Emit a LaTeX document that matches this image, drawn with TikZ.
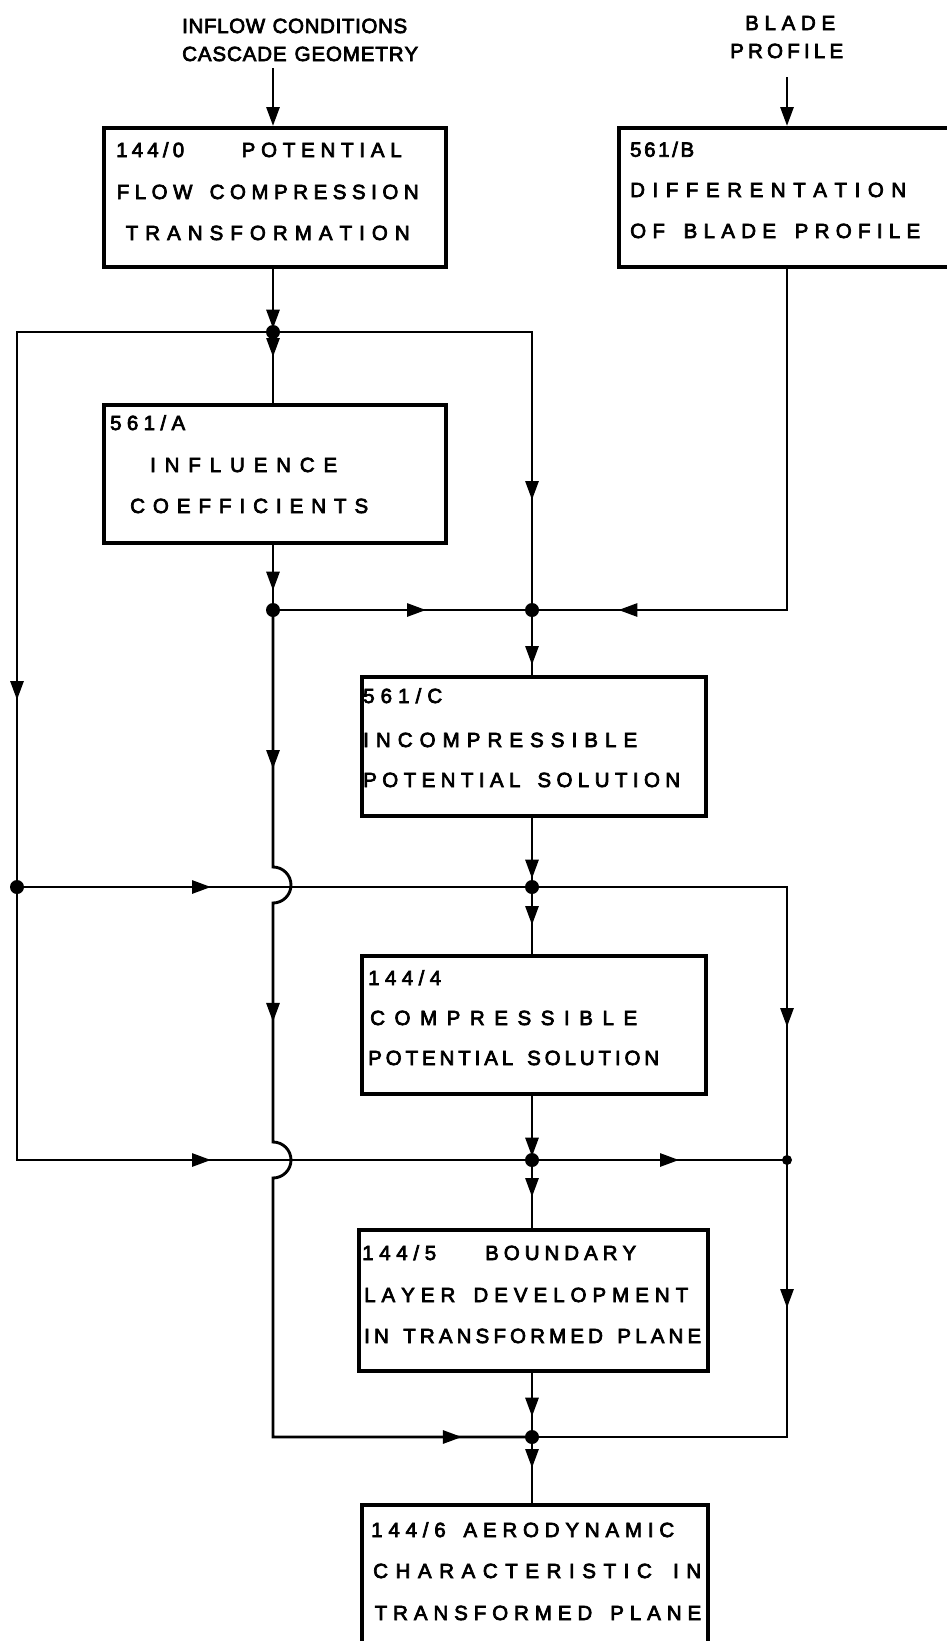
\documentclass[tikz,border=0pt]{standalone}
\usepackage{fontspec}
\newfontfamily\lett{Liberation Sans}[FakeBold=3.5]
\usetikzlibrary{arrows.meta,decorations.markings}

\ExplSyntaxOn
\bool_new:N \l__rs_first_bool
\cs_new_protected:Npn \rs_spread:nn #1 #2
  {
    \hbox_to_wd:nn {#1}
      {
        \bool_set_true:N \l__rs_first_bool
        \str_map_inline:nn {#2}
          {
            \str_if_eq:nnTF {##1} {~}
              { \skip_horizontal:n { 0.3em plus 1fill } }
              {
                \bool_if:NF \l__rs_first_bool
                  { \skip_horizontal:n { 0pt plus 1fill minus 1.5pt } }
                \bool_set_false:N \l__rs_first_bool
                ##1
              }
          }
      }
  }
\NewDocumentCommand \spread { m m } { \rs_spread:nn {#1} {#2} }
\ExplSyntaxOff

\tikzset{
  Tri/.tip={Triangle[length=19pt,width=13pt]},
  box/.style={draw, line width=3.6pt, anchor=north west, inner sep=0pt},
  conn/.style={line width=2.9pt},
  tipat/.style={postaction={decorate, decoration={markings, mark=at position #1 with {\arrow{Tri}}}}},
  lbl/.style={inner sep=0pt, anchor=base west, font=\lett\fontsize{20.5pt}{22pt}\selectfont},
  dot/.style={circle, fill, inner sep=0pt, minimum size=14pt},
  sdot/.style={circle, fill, inner sep=0pt, minimum size=10pt},
}

\begin{document}
\begin{tikzpicture}[x=1pt, y=-1pt]
\useasboundingbox (0,0) rectangle (947,1641);

% boxes
\node[box, minimum width=342pt, minimum height=139pt] (b0) at (102,126) {};
\node[box, minimum width=340pt, minimum height=139pt] (bB) at (617,126) {};
\node[box, minimum width=342pt, minimum height=138pt] (bA) at (102,403) {};
\node[box, minimum width=344pt, minimum height=139pt] (bC) at (360,675) {};
\node[box, minimum width=344pt, minimum height=138pt] (b4) at (360,954) {};
\node[box, minimum width=349pt, minimum height=141pt] (b5) at (357,1228) {};
\node[box, minimum width=346pt, minimum height=160pt] (b6) at (360,1503) {};

% junctions
\node[dot] (j1) at (273,332) {};
\node[dot] (jA) at (273,610) {};
\node[dot] (j2) at (532,610) {};
\node[dot] (j3L) at (17,887) {};
\node[dot] (j3) at (532,887) {};
\node[dot] (j4) at (532,1160) {};
\node[sdot] (j4R) at (787,1160) {};
\node[dot] (j5) at (532,1437) {};
\coordinate (in0) at (273,68);
\coordinate (in1) at (787,77);

% texts
\node[lbl] (tA1) at (182,33) {\spread{225pt}{INFLOW CONDITIONS}};
\node[lbl] (tA2) at (182,61) {\spread{236pt}{CASCADE GEOMETRY}};
\node[lbl] (tB1) at (745,30) {\spread{90pt}{BLADE}};
\node[lbl] (tB2) at (730,58) {\spread{113pt}{PROFILE}};

\node[lbl] (t01) at (116,157) {\spread{68pt}{144/0}};
\node[lbl] (t02) at (241.5,157) {\spread{160pt}{POTENTIAL}};
\node[lbl] (t03) at (116.5,199) {\spread{302pt}{FLOW COMPRESSION}};
\node[lbl] (t04) at (125.5,240) {\spread{284pt}{TRANSFORMATION}};

\node[lbl] (tB3) at (630,156.7) {\spread{64pt}{561/B}};
\node[lbl] (tB4) at (630,197) {\spread{276pt}{DIFFERENTATION}};
\node[lbl] (tB5) at (630,238) {\spread{290pt}{OF BLADE PROFILE}};

\node[lbl] (tA3) at (110,430) {\spread{75pt}{561/A}};
\node[lbl] (tA4) at (150,472) {\spread{187pt}{INFLUENCE}};
\node[lbl] (tA5) at (130,513) {\spread{238pt}{COEFFICIENTS}};

\node[lbl] (tC1) at (363,703) {\spread{79pt}{561/C}};
\node[lbl] (tC2) at (363,747) {\spread{274pt}{INCOMPRESSIBLE}};
\node[lbl] (tC3) at (363,787) {\spread{317pt}{POTENTIAL SOLUTION}};

\node[lbl] (t41) at (368,985) {\spread{73pt}{144/4}};
\node[lbl] (t42) at (370,1025) {\spread{267pt}{COMPRESSIBLE}};
\node[lbl] (t43) at (368,1065) {\spread{291pt}{POTENTIAL SOLUTION}};

\node[lbl] (t51) at (362,1260) {\spread{74pt}{144/5}};
\node[lbl] (t52) at (485,1260) {\spread{151pt}{BOUNDARY}};
\node[lbl] (t53) at (364,1302) {\spread{324pt}{LAYER DEVELOPMENT}};
\node[lbl] (t54) at (364,1343) {\spread{337pt}{IN TRANSFORMED PLANE}};

\node[lbl] (t61) at (371,1537) {\spread{303pt}{144/6 AERODYNAMIC}};
\node[lbl] (t62) at (373,1578) {\spread{328pt}{CHARACTERISTIC IN}};
\node[lbl] (t63) at (374.5,1620) {\spread{326.5pt}{TRANSFORMED PLANE}};

% connectors
\draw[conn,-Tri] (in0) -- (in0 |- b0.north);
\draw[conn,-Tri] (in1) -- (in1 |- bB.north);
\draw[conn, tipat=60pt] (j1.center |- b0.south) -- (j1.center);
\draw[conn, tipat=25pt] (j1.center) -- (j1.center |- bA.north);
\draw[conn, tipat=624pt] (j1.center) -| (j3L.center);
\draw[conn, tipat=427pt] (j1.center) -| (j2.center);
\draw[conn, tipat=46pt] (jA.center |- bA.south) -- (jA.center);
\draw[conn, tipat=153pt] (jA.center) -- (j2.center);
\draw[conn, tipat=510pt] (in1 |- bB.south) |- (j2.center);
\draw[conn, tipat=55pt] (j2.center) -- (j2.center |- bC.north);
\draw[conn, tipat=159pt, tipat=432.5pt, tipat=1057pt] (jA.center) -- (273,867)
  arc[start angle=90, end angle=-90, radius=18pt] -- (273,1142)
  arc[start angle=90, end angle=-90, radius=18pt] -- (273,1437) -- (j5.center);
\draw[conn, tipat=61pt] (j3.center |- bC.south) -- (j3.center);
\draw[conn, tipat=194pt] (j3L.center) -- (j3.center);
\draw[conn, tipat=38pt] (j3.center) -- (j3.center |- b4.north);
\draw[conn, tipat=395pt] (j3.center) -| (j4R.center);
\draw[conn, tipat=148pt] (j4R.center) |- (j5.center);
\draw[conn, tipat=61pt] (j4.center |- b4.south) -- (j4.center);
\draw[conn, tipat=467pt] (j3L.center) |- (j4.center);
\draw[conn, tipat=147pt] (j4.center) -- (j4R.center);
\draw[conn, tipat=37pt] (j4.center) -- (j4.center |- b5.north);
\draw[conn, tipat=44pt] (j5.center |- b5.south) -- (j5.center);
\draw[conn, tipat=31pt] (j5.center) -- (j5.center |- b6.north);
\end{tikzpicture}
\end{document}
